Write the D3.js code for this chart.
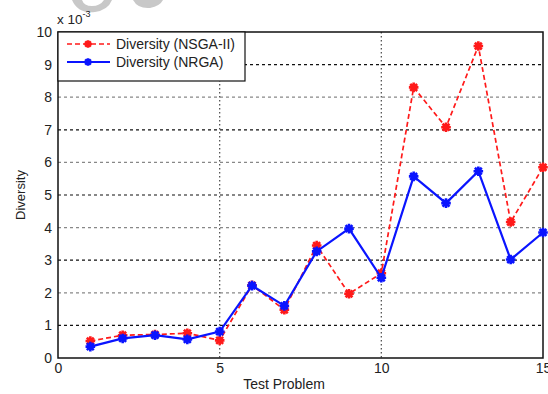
<!DOCTYPE html>
<html>
<head>
<meta charset="utf-8">
<script src="https://cdn.jsdelivr.net/npm/d3@7"></script>
<style>
  body { margin: 0; background: #fff; }
  text { font-family: "Liberation Sans", Arial, sans-serif; fill: #222; }
</style>
</head>
<body>
<div id="chart"></div>
<script>
// data (values in units of 1e-3)
var problems = [1, 2, 3, 4, 5, 6, 7, 8, 9, 10, 11, 12, 13, 14, 15];
var nsga2 = [0.52, 0.7, 0.72, 0.76, 0.54, 2.23, 1.48, 3.45, 1.97, 2.6, 8.3, 7.08, 9.57, 4.17, 5.85];
var nrga = [0.35, 0.6, 0.7, 0.57, 0.81, 2.22, 1.6, 3.27, 3.97, 2.46, 5.57, 4.75, 5.73, 3.02, 3.85];
var xTicks = [0, 5, 10, 15];
var yTicks = [0, 1, 2, 3, 4, 5, 6, 7, 8, 9, 10];
var seriesNames = ["Diversity (NSGA-II)", "Diversity (NRGA)"];

var width = 548, height = 394;
var plotLeft = 58, plotRight = 543, plotTop = 32, plotBottom = 358;

var svg = d3.select("#chart").append("svg")
  .attr("width", width)
  .attr("height", height);

// faint watermark blobs at the top edge
svg.append("path")
  .attr("d", "M72,0 Q78,14 95,12 Q108,10 112,0 L104,0 Q100,6 92,6 Q84,6 82,0 Z")
  .attr("fill", "#c8c8c8");
svg.append("path")
  .attr("d", "M133,0 Q138,9 150,8 Q160,6 163,0 Z")
  .attr("fill", "#c8c8c8");

var x = d3.scaleLinear().domain([0, 15]).range([plotLeft, plotRight]);
var y = d3.scaleLinear().domain([0, 10]).range([plotBottom, plotTop]);

// horizontal grid, alternating dark/light dashes
svg.append("g")
  .selectAll("line")
  .data(yTicks.filter(function (d) { return d > 0 && d < 10; }))
  .enter()
  .append("line")
  .attr("x1", plotLeft).attr("x2", plotRight)
  .attr("y1", function (d) { return y(d); })
  .attr("y2", function (d) { return y(d); })
  .attr("stroke", function (d) { return d % 2 ? "#111" : "#888"; })
  .attr("stroke-width", 1.2)
  .attr("stroke-dasharray", "3,3");

// vertical grid, dotted
svg.append("g")
  .selectAll("line")
  .data(xTicks.filter(function (d) { return d > 0 && d < 15; }))
  .enter()
  .append("line")
  .attr("y1", plotTop).attr("y2", plotBottom)
  .attr("x1", function (d) { return x(d); })
  .attr("x2", function (d) { return x(d); })
  .attr("stroke", "#555")
  .attr("stroke-width", 1.3)
  .attr("stroke-dasharray", "1.5,2.5");

// axes
var xAxis = svg.append("g")
  .attr("transform", "translate(0," + plotBottom + ")")
  .call(d3.axisBottom(x).tickValues(xTicks).tickSize(0).tickPadding(5));
var yAxis = svg.append("g")
  .attr("transform", "translate(" + plotLeft + ",0)")
  .call(d3.axisLeft(y).tickValues(yTicks).tickSize(0).tickPadding(6));
[xAxis, yAxis].forEach(function (g) {
  g.select(".domain").remove();
  g.selectAll("text").style("font-size", "14px").style("fill", "#222");
});

// frame
svg.append("rect")
  .attr("x", plotLeft).attr("y", plotTop)
  .attr("width", plotRight - plotLeft).attr("height", plotBottom - plotTop)
  .attr("fill", "none")
  .attr("stroke", "#111")
  .attr("stroke-width", 1.5);

// asterisk marker
function star(r) {
  var d = r * 0.72;
  return "M" + (-r) + ",0L" + r + ",0M0," + (-r) + "L0," + r +
    "M" + (-d) + "," + (-d) + "L" + d + "," + d +
    "M" + (-d) + "," + d + "L" + d + "," + (-d);
}

var line = d3.line()
  .x(function (d, i) { return x(problems[i]); })
  .y(function (d) { return y(d); });

var series = [
  { values: nsga2, color: "#ff1a1a", dash: "5,3", width: 1.7 },
  { values: nrga, color: "#0a14ff", dash: null, width: 2.2 }
];

series.forEach(function (s) {
  svg.append("path")
    .datum(s.values)
    .attr("fill", "none")
    .attr("stroke", s.color)
    .attr("stroke-width", s.width)
    .attr("stroke-dasharray", s.dash)
    .attr("d", line);
  svg.append("g")
    .selectAll("path")
    .data(s.values)
    .enter()
    .append("path")
    .attr("transform", function (d, i) {
      return "translate(" + x(problems[i]) + "," + y(d) + ")";
    })
    .attr("d", star(4.8))
    .attr("stroke", s.color)
    .attr("stroke-width", 2.6)
    .attr("fill", "none");
});

// legend
var legend = svg.append("g");
legend.append("rect")
  .attr("x", plotLeft).attr("y", plotTop)
  .attr("width", 187).attr("height", 49)
  .attr("fill", "#fff")
  .attr("stroke", "#111")
  .attr("stroke-width", 1.2);
seriesNames.forEach(function (name, i) {
  var s = series[i];
  var ly = 44 + i * 18;
  legend.append("line")
    .attr("x1", 67).attr("x2", 110)
    .attr("y1", ly).attr("y2", ly)
    .attr("stroke", s.color)
    .attr("stroke-width", s.width)
    .attr("stroke-dasharray", s.dash);
  legend.append("path")
    .attr("transform", "translate(88," + ly + ")")
    .attr("d", star(3.8))
    .attr("stroke", s.color)
    .attr("stroke-width", 2.4);
  legend.append("text")
    .attr("x", 116).attr("y", ly + 5)
    .style("font-size", "14px")
    .text(name);
});

// exponent label
var expo = svg.append("text")
  .attr("x", 57).attr("y", 24)
  .style("font-size", "13.5px")
  .text("x 10");
expo.append("tspan")
  .attr("dy", -7)
  .style("font-size", "9px")
  .text("-3");

// axis titles
svg.append("text")
  .attr("x", 284).attr("y", 389)
  .attr("text-anchor", "middle")
  .style("font-size", "14px")
  .text("Test Problem");

svg.append("text")
  .attr("transform", "translate(25," + (plotTop + plotBottom) / 2 + ") rotate(-90)")
  .attr("text-anchor", "middle")
  .style("font-size", "13px")
  .text("Diversity");
</script>
</body>
</html>
